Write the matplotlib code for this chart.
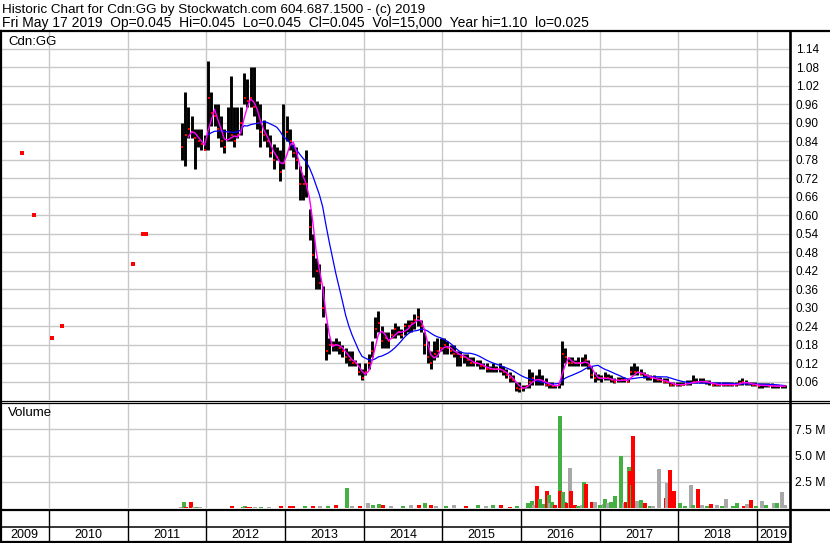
import numpy as np
import pandas as pd
import matplotlib
matplotlib.use("Agg")
import matplotlib.pyplot as plt
from matplotlib.lines import Line2D

plt.rcParams['font.family'] = ['Liberation Sans', 'DejaVu Sans']

# price data: half-month bars (24 per year), 2011 starts at bar 16
years = [2011, 2012, 2013, 2014, 2015, 2016, 2017, 2018, 2019]
first_bar = {2011: 16}

hi_2011 = [0.90, 1.00, 0.95, 0.92, 0.88, 0.88, 0.88, 0.86]
lo_2011 = [0.78, 0.76, 0.85, 0.85, 0.75, 0.82, 0.81, 0.81]
cl_2011 = [0.82, 0.86, 0.88, 0.87, 0.85, 0.84, 0.83, 0.81]

hi_2012 = [1.10, 1.00, 0.96, 0.96, 0.92, 0.88, 0.95, 1.05, 0.95, 0.95, 0.95, 1.06,
           1.04, 1.08, 1.08, 0.97, 0.96, 0.91, 0.88, 0.86, 0.83, 0.82, 0.81, 0.96]
lo_2012 = [0.81, 0.89, 0.89, 0.85, 0.82, 0.80, 0.84, 0.84, 0.82, 0.85, 0.86, 0.96,
           0.95, 0.95, 0.92, 0.88, 0.82, 0.84, 0.82, 0.79, 0.75, 0.78, 0.71, 0.75]
cl_2012 = [0.98, 0.93, 0.92, 0.88, 0.84, 0.82, 0.87, 0.86, 0.84, 0.86, 0.90, 0.98,
           0.97, 0.98, 0.95, 0.90, 0.87, 0.86, 0.84, 0.80, 0.78, 0.79, 0.74, 0.77]

hi_2013 = [0.92, 0.88, 0.83, 0.82, 0.76, 0.73, 0.81, 0.62, 0.54, 0.46, 0.44, 0.37,
           0.25, 0.20, 0.19, 0.20, 0.19, 0.18, 0.17, 0.16, 0.16, 0.13, 0.12, 0.10]
lo_2013 = [0.84, 0.81, 0.79, 0.75, 0.65, 0.65, 0.66, 0.52, 0.40, 0.36, 0.36, 0.27,
           0.13, 0.15, 0.16, 0.16, 0.15, 0.14, 0.12, 0.11, 0.11, 0.11, 0.08, 0.065]
cl_2013 = [0.87, 0.84, 0.80, 0.78, 0.70, 0.70, 0.70, 0.56, 0.47, 0.42, 0.38, 0.30,
           0.16, 0.18, 0.18, 0.18, 0.17, 0.16, 0.14, 0.13, 0.12, 0.12, 0.09, 0.07]

hi_2014 = [0.12, 0.15, 0.19, 0.27, 0.29, 0.24, 0.22, 0.22, 0.23, 0.25, 0.24, 0.23,
           0.25, 0.26, 0.26, 0.28, 0.30, 0.26, 0.22, 0.19, 0.16, 0.19, 0.20, 0.20]
lo_2014 = [0.08, 0.10, 0.14, 0.20, 0.22, 0.17, 0.17, 0.17, 0.20, 0.20, 0.21, 0.20,
           0.21, 0.22, 0.22, 0.23, 0.24, 0.22, 0.15, 0.12, 0.10, 0.13, 0.14, 0.16]
cl_2014 = [0.09, 0.12, 0.16, 0.23, 0.25, 0.19, 0.20, 0.19, 0.21, 0.23, 0.22, 0.21,
           0.24, 0.24, 0.25, 0.26, 0.27, 0.24, 0.18, 0.14, 0.12, 0.15, 0.16, 0.17]

hi_2015 = [0.20, 0.19, 0.18, 0.18, 0.16, 0.16, 0.15, 0.15, 0.14, 0.14, 0.13, 0.13,
           0.12, 0.12, 0.11, 0.12, 0.11, 0.12, 0.11, 0.10, 0.09, 0.08, 0.06, 0.06]
lo_2015 = [0.15, 0.15, 0.15, 0.14, 0.11, 0.11, 0.12, 0.11, 0.11, 0.11, 0.11, 0.10,
           0.10, 0.09, 0.09, 0.09, 0.09, 0.09, 0.08, 0.07, 0.06, 0.06, 0.03, 0.025]
cl_2015 = [0.18, 0.17, 0.16, 0.15, 0.15, 0.14, 0.14, 0.13, 0.12, 0.12, 0.12, 0.11,
           0.11, 0.10, 0.10, 0.10, 0.10, 0.10, 0.09, 0.08, 0.07, 0.065, 0.04, 0.035]

hi_2016 = [0.05, 0.05, 0.10, 0.09, 0.08, 0.10, 0.08, 0.07, 0.06, 0.06, 0.05, 0.055,
           0.19, 0.17, 0.14, 0.14, 0.13, 0.14, 0.14, 0.15, 0.13, 0.11, 0.09, 0.085]
lo_2016 = [0.03, 0.04, 0.04, 0.05, 0.05, 0.05, 0.05, 0.045, 0.04, 0.04, 0.04, 0.04,
           0.05, 0.12, 0.11, 0.11, 0.11, 0.11, 0.11, 0.11, 0.10, 0.07, 0.06, 0.065]
cl_2016 = [0.04, 0.045, 0.06, 0.07, 0.065, 0.065, 0.06, 0.05, 0.05, 0.045, 0.045, 0.05,
           0.15, 0.14, 0.12, 0.12, 0.12, 0.12, 0.12, 0.13, 0.11, 0.08, 0.07, 0.07]

hi_2017 = [0.08, 0.09, 0.085, 0.08, 0.07, 0.075, 0.075, 0.075, 0.07, 0.11, 0.12, 0.11,
           0.10, 0.09, 0.085, 0.08, 0.08, 0.075, 0.075, 0.07, 0.07, 0.06, 0.06, 0.06]
lo_2017 = [0.06, 0.065, 0.065, 0.06, 0.055, 0.06, 0.06, 0.06, 0.06, 0.08, 0.08, 0.08,
           0.08, 0.07, 0.065, 0.065, 0.06, 0.06, 0.06, 0.055, 0.055, 0.045, 0.045, 0.045]
cl_2017 = [0.07, 0.07, 0.07, 0.065, 0.06, 0.065, 0.065, 0.065, 0.06, 0.09, 0.09, 0.09,
           0.085, 0.08, 0.075, 0.07, 0.07, 0.065, 0.065, 0.06, 0.06, 0.05, 0.05, 0.05]

hi_2018 = [0.06, 0.06, 0.065, 0.065, 0.08, 0.07, 0.07, 0.07, 0.065, 0.065, 0.06, 0.06,
           0.06, 0.06, 0.06, 0.06, 0.06, 0.06, 0.065, 0.07, 0.065, 0.06, 0.06, 0.06]
lo_2018 = [0.045, 0.048, 0.05, 0.05, 0.055, 0.055, 0.055, 0.055, 0.052, 0.05, 0.045, 0.045,
           0.045, 0.045, 0.045, 0.045, 0.045, 0.045, 0.05, 0.05, 0.05, 0.048, 0.045, 0.045]
cl_2018 = [0.05, 0.05, 0.055, 0.055, 0.06, 0.06, 0.06, 0.06, 0.058, 0.055, 0.05, 0.05,
           0.05, 0.05, 0.05, 0.05, 0.05, 0.05, 0.055, 0.06, 0.055, 0.052, 0.05, 0.05]

hi_2019 = [0.055, 0.055, 0.055, 0.055, 0.055, 0.05, 0.05, 0.05, 0.05]
lo_2019 = [0.04, 0.04, 0.042, 0.042, 0.04, 0.04, 0.04, 0.04, 0.04]
cl_2019 = [0.045, 0.048, 0.048, 0.045, 0.045, 0.045, 0.045, 0.045, 0.045]

# odd trades before regular trading started
early_dates = [2009.66, 2009.81, 2010.04, 2010.17, 2011.07, 2011.19, 2011.23]
early_close = [0.80, 0.60, 0.20, 0.24, 0.44, 0.54, 0.54]

# volume (millions): date, size, colour code g=up r=down n=unchanged
vol_dates = [2011.68, 2011.71, 2011.74, 2011.80, 2011.84, 2011.88, 2011.92,
             2012.33, 2012.46, 2012.49, 2012.52, 2012.56, 2012.62, 2012.70, 2012.80, 2012.95,
             2013.06, 2013.10, 2013.25, 2013.35, 2013.45, 2013.55, 2013.65, 2013.79, 2013.85, 2013.95,
             2014.05, 2014.12, 2014.20, 2014.25, 2014.35, 2014.50, 2014.60, 2014.70, 2014.78, 2014.85, 2014.92,
             2015.05, 2015.15, 2015.30, 2015.45, 2015.55, 2015.65, 2015.75, 2015.86, 2015.95,
             2016.09, 2016.14, 2016.16, 2016.20, 2016.24, 2016.28, 2016.33, 2016.35, 2016.37, 2016.40,
             2016.43, 2016.49, 2016.50, 2016.53, 2016.56, 2016.59, 2016.62, 2016.64, 2016.69, 2016.73,
             2016.77, 2016.80, 2016.83, 2016.90, 2016.94,
             2017.00, 2017.05, 2017.07, 2017.11, 2017.15, 2017.19, 2017.27, 2017.31, 2017.34, 2017.37,
             2017.38, 2017.41, 2017.43, 2017.47, 2017.52, 2017.58, 2017.64, 2017.68, 2017.75, 2017.84,
             2017.86, 2017.90, 2017.94,
             2018.02, 2018.08, 2018.16, 2018.19, 2018.25, 2018.30, 2018.36, 2018.42, 2018.49, 2018.55,
             2018.61, 2018.70, 2018.75, 2018.83, 2018.87, 2018.92, 2018.99,
             2019.06, 2019.12, 2019.21, 2019.26, 2019.32, 2019.36]
vol_size = [0.1, 0.55, 0.1, 0.55, 0.1, 0.08, 0.08,
            0.15, 0.12, 0.18, 0.12, 0.1, 0.08, 0.08, 0.1, 0.2,
            0.2, 0.15, 0.15, 0.2, 0.15, 0.2, 0.25, 1.9, 0.2, 0.15,
            0.5, 0.3, 0.4, 0.3, 0.2, 0.2, 0.25, 0.3, 0.5, 0.3, 0.2,
            0.2, 0.3, 0.2, 0.3, 0.2, 0.25, 0.3, 0.1, 0.2,
            0.5, 0.7, 0.3, 2.1, 0.9, 0.4, 1.6, 1.2, 0.5, 0.6,
            0.3, 8.8, 1.6, 1.5, 0.6, 0.5, 3.8, 1.6, 0.3, 0.2,
            0.3, 2.5, 2.3, 0.6, 0.6,
            0.3, 0.4, 0.9, 0.5, 0.6, 1.1, 5.0, 0.5, 0.6, 3.9,
            3.5, 2.2, 6.9, 0.7, 0.75, 0.5, 0.2, 0.2, 3.7, 1.0,
            2.4, 3.6, 1.6,
            0.5, 0.2, 2.2, 0.3, 1.8, 0.3, 0.2, 0.4, 0.3, 0.2,
            0.9, 0.2, 0.5, 0.2, 0.4, 0.8, 0.2,
            0.7, 0.3, 0.5, 0.5, 1.5, 0.3]
vol_dir = ['n', 'g', 'r', 'r', 'n', 'g', 'n',
           'r', 'g', 'g', 'r', 'r', 'n', 'g', 'n', 'r',
           'r', 'r', 'g', 'r', 'n', 'g', 'r', 'g', 'n', 'r',
           'n', 'g', 'g', 'r', 'n', 'g', 'n', 'r', 'g', 'r', 'n',
           'g', 'n', 'r', 'g', 'n', 'g', 'r', 'r', 'g',
           'g', 'g', 'n', 'r', 'g', 'g', 'r', 'g', 'n', 'g',
           'r', 'g', 'r', 'g', 'g', 'r', 'n', 'r', 'r', 'g',
           'n', 'g', 'r', 'r', 'n',
           'g', 'n', 'g', 'n', 'g', 'g', 'g', 'n', 'r', 'g',
           'r', 'g', 'r', 'n', 'g', 'r', 'g', 'n', 'n', 'r',
           'n', 'r', 'r',
           'g', 'g', 'n', 'g', 'r', 'n', 'g', 'r', 'n', 'g',
           'n', 'g', 'g', 'r', 'n', 'r', 'g',
           'n', 'g', 'n', 'g', 'n', 'n']

year_labels = ['2009', '2010', '2011', '2012', '2013', '2014', '2015', '2016', '2017', '2018', '2019']
header1 = "Historic Chart for Cdn:GG by Stockwatch.com 604.687.1500 - (c) 2019"
header2 = ("Fri May 17 2019  Op=0.045  Hi=0.045  Lo=0.045  Cl=0.045  "
           "Vol=15,000  Year hi=1.10  lo=0.025")

# ---- assemble the bar series
hi, lo, cl, dates = [], [], [], []
for yr in years:
    h, l, c = globals()['hi_%d' % yr], globals()['lo_%d' % yr], globals()['cl_%d' % yr]
    p0 = first_bar.get(yr, 0)
    dates += [yr + (p0 + i + 0.5) / 24.0 for i in range(len(h))]
    hi += h
    lo += l
    cl += c
dates = np.array(dates)
close = pd.Series(cl)
ma_short = close.rolling(3, min_periods=3).mean()
ma_long = close.rolling(12, min_periods=9).mean()

# ---- layout (pixel based)
W, H = 830, 543
def rect(x0, y0, x1, y1):
    return [x0 / W, 1 - y1 / H, (x1 - x0) / W, (y1 - y0) / H]

fig = plt.figure(figsize=(W / 100, H / 100), dpi=100)
fig.patch.set_facecolor('white')

xlim = (2009.377, 2019.407)
grid_c = '#c8c8c8'
bounds = list(range(2010, 2020))

ax = fig.add_axes(rect(0, 32, 789, 400))
ax.set_xlim(xlim)
ax.set_ylim(0, 1.194)
for b in bounds:
    ax.axvline(b, color=grid_c, lw=1.0, zorder=0)
yt = np.round(np.arange(0.06, 1.15, 0.06), 2)
for v in yt:
    ax.axhline(v, color=grid_c, lw=1.0, zorder=0)
ax.vlines(dates, lo, hi, color='black', lw=2.1, zorder=2)
ax.plot(dates + 0.008, cl, 's', color='red', ms=2.0, mew=0, zorder=3)
ax.plot(early_dates, early_close, 's', color='red', ms=2.2, mew=0, zorder=3)
ax.plot(dates, ma_long, color='#0000ff', lw=0.9, zorder=4)
ax.plot(dates, ma_short, color='#ff00ff', lw=1.0, zorder=5)
ax.set_xticks([])
ax.yaxis.tick_right()
ax.set_yticks(yt)
ax.set_yticklabels(['%.2f' % v for v in yt], fontsize=8.5)
ax.tick_params(axis='y', length=0, pad=5)
for s in ax.spines.values():
    s.set_visible(False)
ax.text(8 / 789, 1 - 10 / 368, 'Cdn:GG', transform=ax.transAxes, fontsize=9.5,
        ha='left', va='center')

vc = {'g': '#44b044', 'r': '#ff0000', 'n': '#a8a8a8'}
axv = fig.add_axes(rect(0, 403, 789, 508))
axv.set_xlim(xlim)
axv.set_ylim(0, 10)
for b in bounds:
    axv.axvline(b, color=grid_c, lw=1.0, zorder=0)
for v in [2.5, 5, 7.5]:
    axv.axhline(v, color=grid_c, lw=1.0, zorder=0)
axv.vlines(vol_dates, 0, vol_size, colors=[vc[d] for d in vol_dir], lw=1.7,
           antialiased=False, zorder=2)
axv.set_xticks([])
axv.yaxis.tick_right()
axv.set_yticks([2.5, 5, 7.5])
axv.set_yticklabels(['2.5 M', '5.0 M', '7.5 M'], fontsize=8.8)
axv.tick_params(axis='y', length=0, pad=4)
for s in axv.spines.values():
    s.set_visible(False)
axv.text(8 / 789, 1 - 10 / 105, 'Volume', transform=axv.transAxes, fontsize=9.5,
         ha='left', va='center')

axy = fig.add_axes(rect(0, 510, 789, 542))
axy.set_xlim(xlim)
axy.set_ylim(0, 1)
axy.vlines(bounds, 0, 1, color='black', lw=1.0)
axy.axhline(0.48, color='black', lw=1.1)
edges = [xlim[0]] + bounds + [xlim[1]]
for lab, a, b in zip(year_labels, edges[:-1], edges[1:]):
    axy.text((a + b) / 2, 0.22, lab, ha='center', va='center', fontsize=9)
axy.axis('off')

# frame lines
def hline(y, x0, x1, lw):
    fig.add_artist(Line2D([x0 / W, x1 / W], [1 - y / H, 1 - y / H], color='black', lw=lw))
def vline(x, y0, y1, lw):
    fig.add_artist(Line2D([x / W, x / W], [1 - y0 / H, 1 - y1 / H], color='black', lw=lw))

hline(31, 0, W, 1.6)
hline(400.5, 0, W, 0.9)
hline(403, 0, W, 0.9)
hline(510, 0, W, 1.6)
hline(542, 0, 790, 1.6)
vline(1, 31, H, 1.6)
vline(789.5, 31, H, 1.9)

fig.text(2 / W, 1 - 13 / H, header1, fontsize=9.7, va='baseline', ha='left')
fig.text(2 / W, 1 - 27 / H, header2, fontsize=10, va='baseline', ha='left')

fig.savefig('out.png', dpi=100)
